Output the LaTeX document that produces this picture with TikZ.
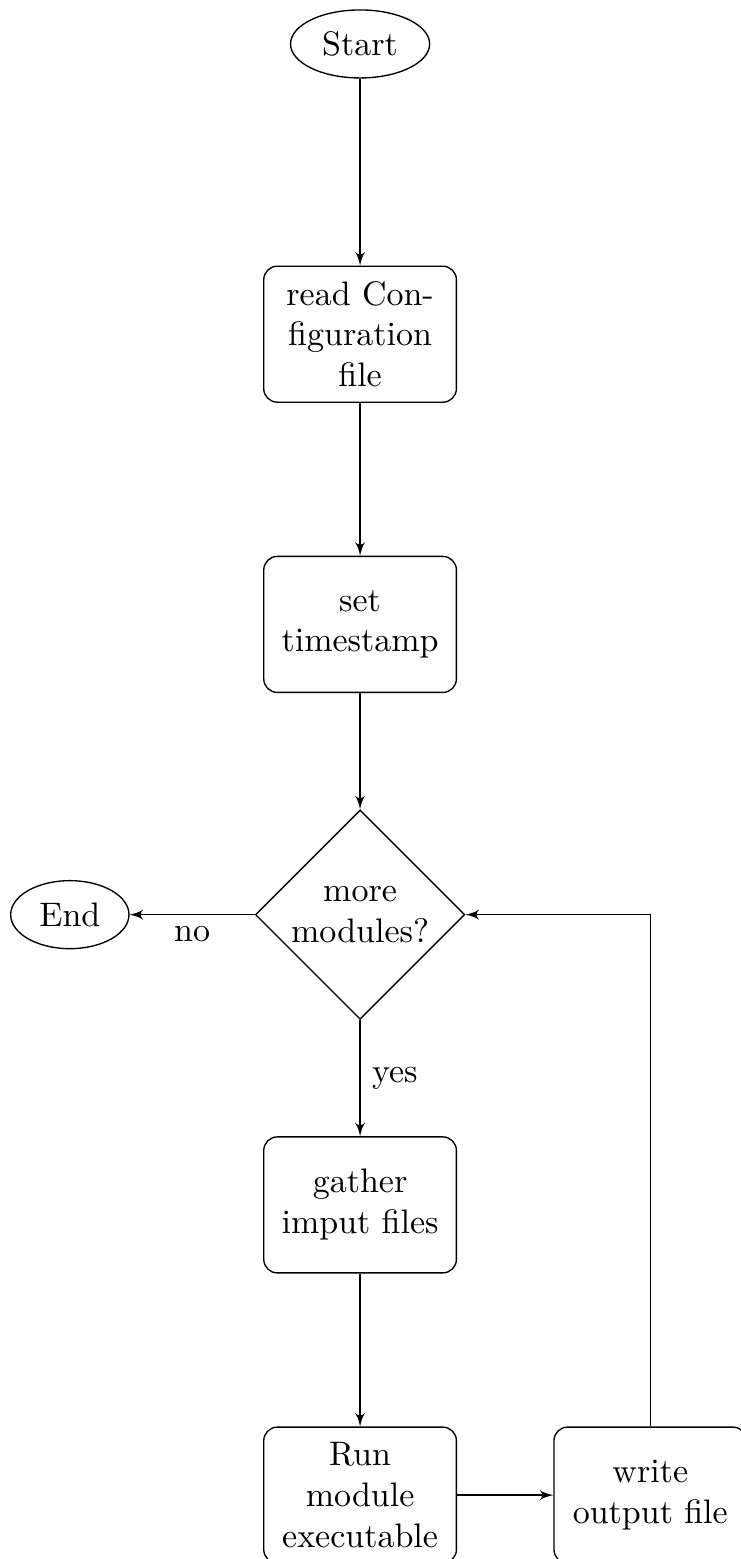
\documentclass[tikz,border=0pt]{standalone}
\usetikzlibrary{shapes.geometric,arrows}
\begin{document}
\begin{tikzpicture}[
  block/.style={rectangle, draw, text width=5em, align=center, rounded corners, minimum height=4em},
  decision/.style={diamond, draw, text width=4.5em, align=center, inner sep=0pt},
  cloud/.style={ellipse, draw, minimum height=2em},
  line/.style={draw, -latex'}
]
\useasboundingbox (-105.9pt,-189.5pt) rectangle (111.8pt,269.0pt);
\node[cloud] (start) at (0,9cm) {Start};
\node[block] (read) at (0,6cm) {read Con-\\figuration\\file};
\node[block] (set) at (0,3cm) {set\\timestamp};
\node[decision] (decide) at (0,0) {more\\modules?};
\node[cloud] (stop) at (-3cm,0) {End};
\node[block] (gather) at (0,-3cm) {gather\\imput files};
\node[block] (run) at (0,-6cm) {Run\\module\\executable};
\node[block] (write) at (3cm,-6cm) {write\\output file};
\path[line] (start) -- (read);
\path[line] (read) -- (set);
\path[line] (set) -- (decide);
\path[line] (decide) -- node[below, midway] (no) {no} (stop);
\path[line] (decide) -- node[right, midway] (yes) {yes} (gather);
\path[line] (gather) -- (run);
\path[line] (run) -- (write);
\path[line] (write) |- (decide);
\end{tikzpicture}
\end{document}
